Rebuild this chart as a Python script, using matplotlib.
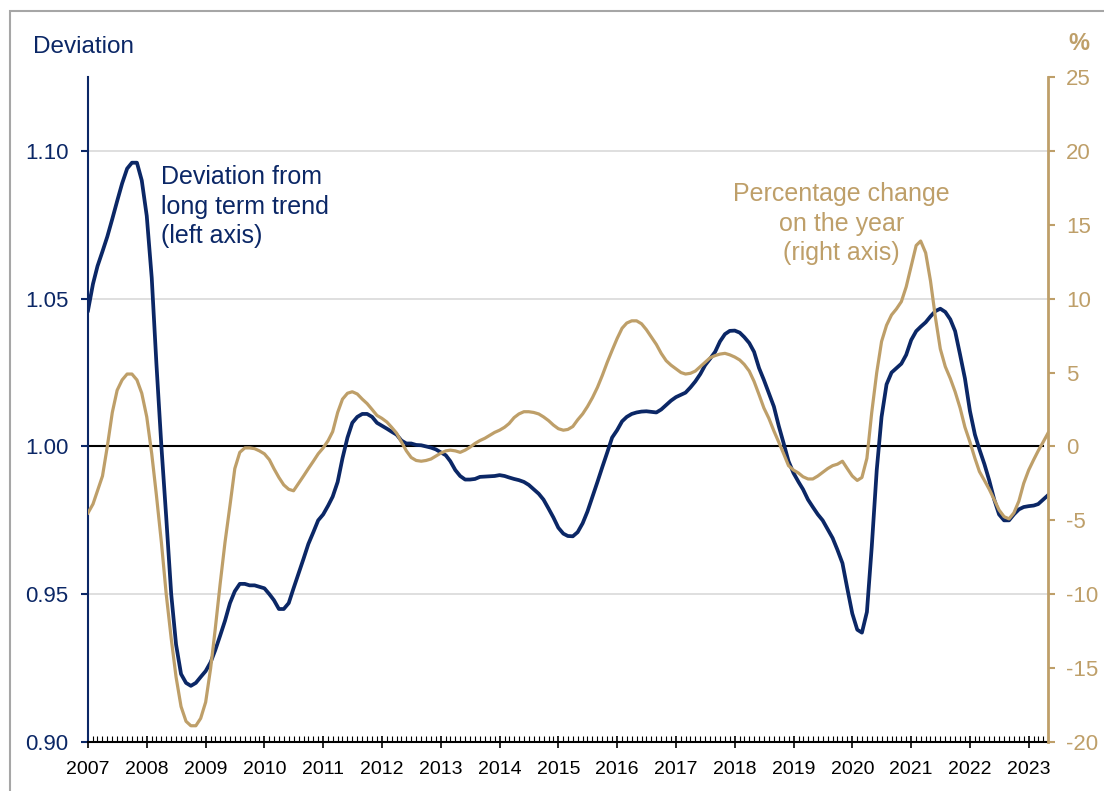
import numpy as np
import pandas as pd
import matplotlib
matplotlib.use("Agg")
import matplotlib.pyplot as plt
import matplotlib.dates as mdates
from matplotlib.patches import Rectangle

plt.rcParams['font.family'] = ['Liberation Sans', 'DejaVu Sans']
plt.rcParams['axes.unicode_minus'] = False

# monthly data, Jan 2007 - May 2023
deviation = [
    # 2007
    1.046, 1.055, 1.061, 1.066, 1.071, 1.077, 1.083, 1.089, 1.094, 1.096, 1.096, 1.090,
    # 2008
    1.078, 1.057, 1.028, 1.000, 0.976, 0.950, 0.933, 0.923, 0.920, 0.919, 0.920, 0.922,
    # 2009
    0.924, 0.927, 0.931, 0.936, 0.941, 0.947, 0.951, 0.9535, 0.9535, 0.953, 0.953, 0.9525,
    # 2010
    0.952, 0.950, 0.948, 0.945, 0.945, 0.947, 0.952, 0.957, 0.962, 0.967, 0.971, 0.975,
    # 2011
    0.977, 0.980, 0.983, 0.988, 0.996, 1.003, 1.008, 1.010, 1.011, 1.011, 1.010, 1.008,
    # 2012
    1.007, 1.006, 1.005, 1.004, 1.002, 1.001, 1.001, 1.0005, 1.0004, 1.000, 0.9996, 0.999,
    # 2013
    0.998, 0.997, 0.995, 0.992, 0.990, 0.9888, 0.9888, 0.989, 0.9897, 0.9898, 0.9899, 0.990,
    # 2014
    0.9903, 0.990, 0.9895, 0.989, 0.9886, 0.988, 0.987, 0.9855, 0.984, 0.982, 0.979, 0.976,
    # 2015
    0.9725, 0.9705, 0.9697, 0.9696, 0.971, 0.974, 0.978, 0.983, 0.988, 0.993, 0.998, 1.003,
    # 2016
    1.0055, 1.0085, 1.010, 1.011, 1.0115, 1.0118, 1.0119, 1.0117, 1.0115, 1.0125, 1.014, 1.0155,
    # 2017
    1.0167, 1.0175, 1.0182, 1.020, 1.022, 1.0245, 1.0275, 1.0297, 1.032, 1.0355, 1.038, 1.0391,
    # 2018
    1.0392, 1.0385, 1.037, 1.035, 1.032, 1.0265, 1.0225, 1.018, 1.0135, 1.007, 1.001, 0.995,
    # 2019
    0.991, 0.988, 0.9855, 0.982, 0.9795, 0.977, 0.975, 0.972, 0.969, 0.965, 0.9605, 0.952,
    # 2020
    0.9435, 0.938, 0.937, 0.944, 0.966, 0.992, 1.010, 1.021, 1.025, 1.0265, 1.028, 1.031,
    # 2021
    1.036, 1.039, 1.0405, 1.042, 1.044, 1.0458, 1.0466, 1.0455, 1.043, 1.039, 1.031, 1.023,
    # 2022
    1.012, 1.004, 0.999, 0.994, 0.9885, 0.982, 0.977, 0.975, 0.975, 0.977, 0.9787, 0.9795,
    # 2023
    0.9798, 0.980, 0.9805, 0.982, 0.9835,
]

pct_change = [
    # 2007
    -4.5, -3.9, -3.0, -2.0, 0.0, 2.3, 3.8, 4.5, 4.9, 4.9, 4.5, 3.6,
    # 2008
    2.0, -0.5, -3.3, -6.5, -10.0, -13.0, -15.6, -17.6, -18.6, -18.9, -18.9, -18.4,
    # 2009
    -17.3, -15.0, -12.4, -9.3, -6.5, -4.0, -1.5, -0.4, -0.1, -0.1, -0.15, -0.3,
    # 2010
    -0.5, -0.9, -1.5, -2.1, -2.6, -2.9, -3.0, -2.5, -2.0, -1.5, -1.0, -0.5,
    # 2011
    -0.1, 0.4, 1.0, 2.3, 3.2, 3.6, 3.7, 3.55, 3.2, 2.9, 2.5, 2.1,
    # 2012
    1.9, 1.65, 1.3, 0.9, 0.3, -0.3, -0.75, -0.95, -1.0, -0.95, -0.85, -0.65,
    # 2013
    -0.45, -0.3, -0.25, -0.3, -0.4, -0.25, -0.05, 0.2, 0.4, 0.55, 0.75, 0.95,
    # 2014
    1.1, 1.3, 1.55, 1.95, 2.2, 2.35, 2.35, 2.3, 2.2, 2.0, 1.75, 1.45,
    # 2015
    1.2, 1.1, 1.15, 1.35, 1.8, 2.2, 2.7, 3.3, 4.0, 4.8, 5.7, 6.5,
    # 2016
    7.3, 8.0, 8.35, 8.5, 8.5, 8.3, 7.9, 7.4, 6.9, 6.3, 5.8, 5.5,
    # 2017
    5.25, 5.0, 4.9, 4.95, 5.1, 5.4, 5.7, 6.0, 6.15, 6.25, 6.3, 6.2,
    # 2018
    6.05, 5.85, 5.55, 5.1, 4.4, 3.5, 2.6, 1.9, 1.05, 0.3, -0.5, -1.3,
    # 2019
    -1.6, -1.8, -2.05, -2.2, -2.2, -2.0, -1.75, -1.5, -1.3, -1.2, -1.0, -1.5,
    # 2020
    -2.0, -2.3, -2.1, -0.8, 2.3, 5.0, 7.1, 8.2, 8.9, 9.3, 9.8, 10.8,
    # 2021
    12.2, 13.6, 13.9, 13.1, 11.2, 8.7, 6.6, 5.4, 4.6, 3.7, 2.6, 1.3,
    # 2022
    0.3, -0.8, -1.7, -2.3, -2.9, -3.6, -4.3, -4.75, -4.9, -4.5, -3.7, -2.5,
    # 2023
    -1.6, -0.9, -0.3, 0.3, 0.9,
]

dates = pd.date_range('2007-01-01', periods=len(deviation), freq='MS')

left_ticks = [0.90, 0.95, 1.00, 1.05, 1.10]
right_ticks = [-20, -15, -10, -5, 0, 5, 10, 15, 20, 25]

navy = '#0B2766'
gold = '#BE9F69'

fig = plt.figure(figsize=(11.04, 7.91), dpi=100)
ax = fig.add_axes([88 / 1104, 1 - 742 / 791, 960 / 1104, 665 / 791])
ax2 = ax.twinx()

# outer frame
fig.patches.append(Rectangle((10 / 1104, -0.05), 1.2, 1 - 11 / 791 + 0.05,
                             transform=fig.transFigure, fill=False,
                             edgecolor='#A6A6A6', lw=1.5))

ax.plot(dates, deviation, color=navy, lw=2.7, zorder=3)
ax2.plot(dates, pct_change, color=gold, lw=2.3, zorder=3)

ax.set_ylim(0.90, 1.125)
ax2.set_ylim(-20, 25)
ax.set_xlim(pd.Timestamp('2007-01-01'), pd.Timestamp('2023-05-01'))

ax.set_yticks(left_ticks)
ax.set_yticklabels(['%.2f' % v for v in left_ticks])
ax2.set_yticks(right_ticks)

for v in left_ticks[1:]:
    if v == 1.00:
        continue
    ax.axhline(v, color='#D9D9D9', lw=1.2, zorder=1)
ax.axhline(1.00, xmax=0.995, color='black', lw=1.5, zorder=2)

ax.xaxis.set_major_locator(mdates.YearLocator())
ax.xaxis.set_minor_locator(mdates.MonthLocator())
ax.xaxis.set_major_formatter(mdates.DateFormatter('%Y'))

for a in (ax, ax2):
    a.spines['top'].set_visible(False)
ax.spines['right'].set_visible(False)
ax2.spines['left'].set_visible(False)
ax2.spines['bottom'].set_visible(False)
ax.spines['left'].set_color(navy)
ax.spines['left'].set_linewidth(1.5)
ax2.spines['right'].set_color(gold)
ax2.spines['right'].set_linewidth(2)
ax.spines['bottom'].set_linewidth(1.5)

ax.tick_params(axis='y', colors=navy, labelsize=16, length=5, width=1.5, pad=9)
ax2.tick_params(axis='y', colors=gold, labelsize=16, length=5, width=1.5, pad=8)
ax.tick_params(axis='x', which='major', direction='inout', length=9, width=1.2,
               labelsize=14, pad=9)
ax.tick_params(axis='x', which='minor', direction='in', length=4, width=0.8)

ax.text(-55 / 960, 1.0 + 30 / 665, 'Deviation', transform=ax.transAxes,
        color=navy, fontsize=17.5, va='center', ha='left')
ax2.text(1 + 31 / 960, 1.0 + 33 / 665, '%', transform=ax2.transAxes,
         color=gold, fontsize=17, fontweight='bold', va='center', ha='center')

ax.text(pd.Timestamp('2008-04-01'), 1.0952, 'Deviation from\nlong term trend\n(left axis)',
        color=navy, fontsize=18, va='top', ha='left', linespacing=1.3)
ax2.text(pd.Timestamp('2019-10-25'), 17.9, 'Percentage change\non the year\n(right axis)',
         color=gold, fontsize=18, va='top', ha='center', linespacing=1.3)

fig.savefig('out.png', dpi=100)
